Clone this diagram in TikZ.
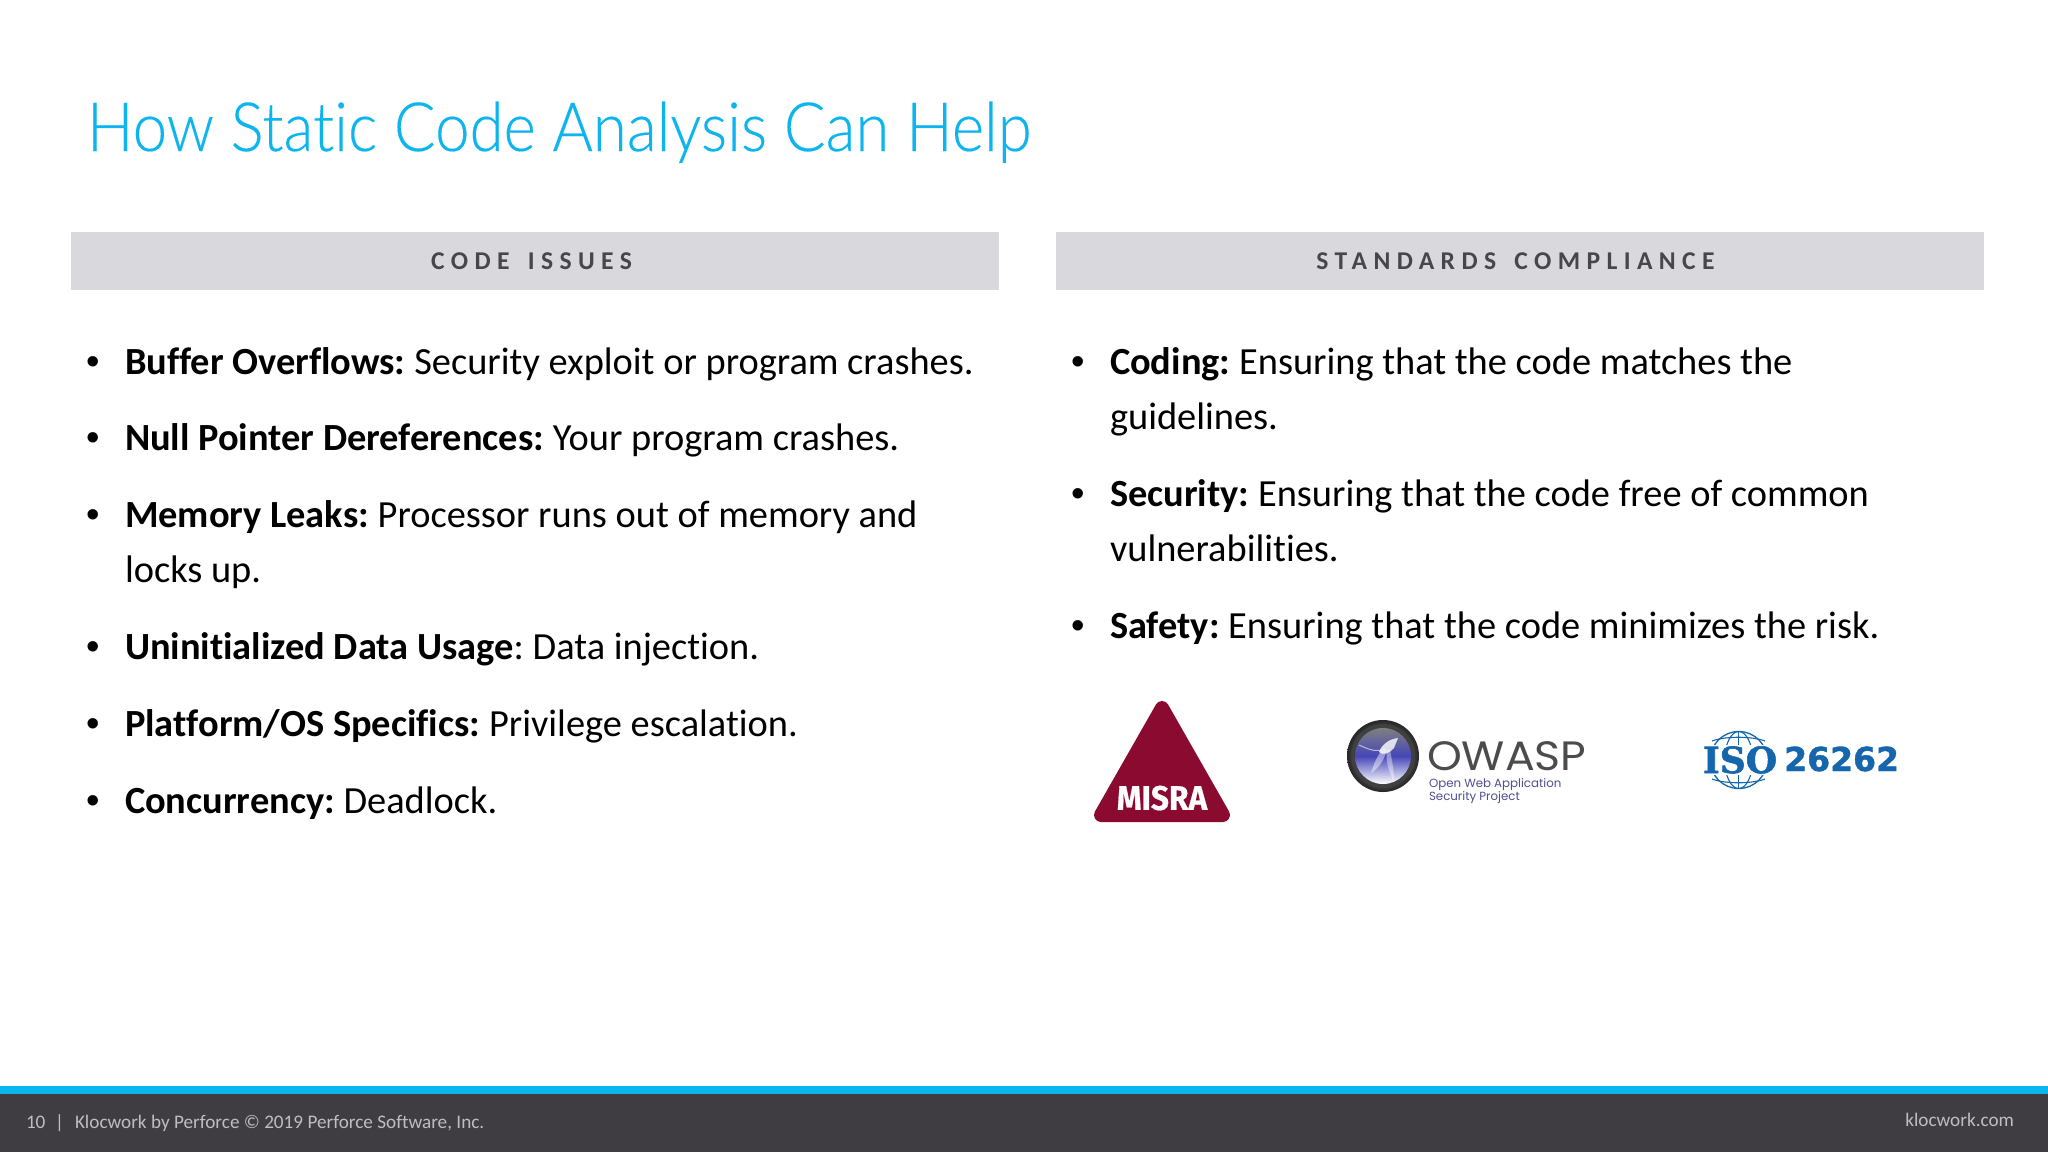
\documentclass[tikz,border=0pt]{standalone}
\usepackage{fontspec}
\setmainfont[Ligatures=NoCommon]{Carlito}
\newfontfamily\popfont{Poppins}
\newfontfamily\titlefont[Ligatures=NoCommon,FakeBold=0.25]{Lato Light}
\newfontfamily\bulfont{Liberation Sans}
\newfontfamily\dvsfont[BoldFeatures={FakeBold=1.2}]{DejaVu Sans}
\newfontfamily\dvsefont[BoldFeatures={FakeBold=1.5}]{DejaVu Serif}
\newfontfamily\firafont[BoldFeatures={FakeBold=0.6}]{Fira Sans}
\newfontfamily\hdrfont[LetterSpace=25]{Carlito}
\usetikzlibrary{calc}
\definecolor{brand}{HTML}{0DB5EE}
\definecolor{barbg}{HTML}{D9D8DC}
\definecolor{hdrtxt}{HTML}{47464B}
\definecolor{footbg}{HTML}{3F3D42}
\definecolor{foottxt}{HTML}{BEBDC0}
\definecolor{misra}{HTML}{8A0A30}
\definecolor{isoblue}{HTML}{1566AC}
\definecolor{owtxt}{HTML}{4E4F8F}
\tikzset{
  x=1pt,y=-1pt,
  txt/.style={inner sep=0pt,outer sep=0pt,anchor=base west},
  body/.style={txt,text=black,font=\frenchspacing\fontsize{38.4}{38.4}\selectfont},
  bul/.style={txt,text=black,font=\bulfont\fontsize{38.4}{38.4}\selectfont},
  hdr/.style={inner sep=0pt,text=hdrtxt,font=\hdrfont\fontsize{25.6}{25.6}\selectfont\bfseries,anchor=base},
  bar/.style={fill=barbg,draw=none},
  foot/.style={txt,text=foottxt,font=\frenchspacing\fontsize{19.2}{19.2}\selectfont},
}
\begin{document}
\begin{tikzpicture}
\useasboundingbox (0,0) rectangle (2048,1152);
\fill[white] (0,0) rectangle (2048,1152);
\node[txt,text=brand,font=\titlefont\fontsize{68}{68}\selectfont,xscale=.908] (title) at (87,151) {How Static Code Analysis Can Help};
\fill[bar] (71,232) rectangle (999,290);
\fill[bar] (1056,232) rectangle (1984,290);
\node[hdr] (h1) at (531.5,269.5) {CODE\hspace{6pt} ISSUES};
\node[hdr] (h2) at (1515.5,269.5) {STANDARDS\hspace{6pt} COMPLIANCE};
% left column
\node[bul] (b1) at (86,374) {•};
\node[body] (l1) at (125,374) {\textbf{Buffer Overflows:} Security exploit or program crashes.};
\node[bul] (b2) at (86,450.5) {•};
\node[body] (l2) at (125,450.5) {\textbf{Null Pointer Dereferences:} Your program crashes.};
\node[bul] (b3) at (86,527.5) {•};
\node[body] (l3) at (125,527.5) {\textbf{Memory Leaks:} Processor runs out of memory and};
\node[body] (l3b) at (125,582.5) {locks up.};
\node[bul] (b4) at (86,659.5) {•};
\node[body] (l4) at (125,659.5) {\textbf{Uninitialized Data Usage}: Data injection.};
\node[bul] (b5) at (86,736) {•};
\node[body] (l5) at (125,736) {\textbf{Platform/OS Specifics:} Privilege escalation.};
\node[bul] (b6) at (86,813) {•};
\node[body] (l6) at (125,813) {\textbf{Concurrency:} Deadlock.};
% right column
\node[bul] (r1b) at (1071,374) {•};
\node[body] (r1) at (1110,374) {\textbf{Coding:} Ensuring that the code matches the};
\node[body] (r1c) at (1110,429) {guidelines.};
\node[bul] (r2b) at (1071,506) {•};
\node[body] (r2) at (1110,506) {\textbf{Security:} Ensuring that the code free of common};
\node[body] (r2c) at (1110,561) {vulnerabilities.};
\node[bul] (r3b) at (1071,638) {•};
\node[body] (r3) at (1110,638) {\textbf{Safety:} Ensuring that the code minimizes the risk.};
% MISRA logo
\fill[misra,draw=misra,line width=14pt,line join=round] (1162,708) -- (1101,815) -- (1223,815) -- cycle;
\node[inner sep=0pt,text=white,font=\firafont\bfseries\fontsize{34}{34}\selectfont,xscale=.93] (misra) at (1162,798) {MISRA};
% OWASP logo
\begin{scope}[shift={(32,0)}]
\shade[inner color=gray!60,outer color=black!85] (1351,756) circle (36);
\fill[black!75] (1351,756) circle (32);
\shade[inner color=blue!30!white!75!black,outer color=blue!35!gray!70!white,middle color=blue!45!gray] (1351,756) circle (28);
\fill[white,opacity=.8] (1366,738) .. controls (1356,739) and (1349,746) .. (1347,752) .. controls (1351,756) and (1358,753) .. (1362,748) -- cycle;
\draw[white,opacity=.6,line width=1pt] (1350,750) .. controls (1341,752) and (1334,748) .. (1327,745);
\fill[white,opacity=.45] (1352,748) .. controls (1345,755) and (1341,766) .. (1339,773) .. controls (1347,768) and (1352,760) .. (1355,750) -- cycle;
\fill[white,opacity=.4] (1355,750) .. controls (1353,762) and (1358,774) .. (1362,782) .. controls (1362,770) and (1360,760) .. (1358,750) -- cycle;
\end{scope}
\node[txt,text=black!70,font=\popfont\fontsize{41}{41}\selectfont,xscale=1.08] (ow) at (1427,770) {OWASP};
\node[txt,text=owtxt,font=\popfont\fontsize{11.8}{11.8}\selectfont] (ow1) at (1429,787) {Open Web Application};
\node[txt,text=owtxt,font=\popfont\fontsize{11.8}{11.8}\selectfont] (ow2) at (1429,800) {Security Project};
% ISO logo
\begin{scope}
\clip (1700,725) rectangle (1780,745) (1700,775) rectangle (1780,795);
\draw[isoblue,line width=1.3pt] (1738.7,760) circle (28.5);
\draw[isoblue,line width=1.1pt] (1738.7,760) ellipse (14 and 28.5);
\draw[isoblue,line width=1.1pt] (1738.7,731) -- (1738.7,789);
\draw[isoblue,line width=1.1pt] (1712,741) .. controls (1725,736) and (1752,736) .. (1765,741);
\draw[isoblue,line width=1.1pt] (1712,779) .. controls (1725,784) and (1752,784) .. (1765,779);
\end{scope}
\node[inner sep=0pt,text=isoblue,font=\dvsefont\bfseries\fontsize{36}{36}\selectfont,anchor=base] (iso) at (1740,773) {ISO};
\node[inner sep=0pt,text=isoblue,font=\dvsfont\bfseries\fontsize{33}{33}\selectfont,anchor=base west,xscale=1] (iso2) at (1784,771) {26262};
% footer
\fill[footbg] (0,1094) rectangle (2048,1152);
\fill[brand] (0,1086) rectangle (2048,1094);
\node[foot] (f1) at (26,1128) {10};
\node[foot] (f2) at (55,1128) {|};
\node[foot] (f3) at (75,1128) {Klocwork by Perforce © 2019 Perforce Software, Inc.};
\node[foot,anchor=base east] (f4) at (2014,1126) {klocwork.com};
\end{tikzpicture}
\end{document}
